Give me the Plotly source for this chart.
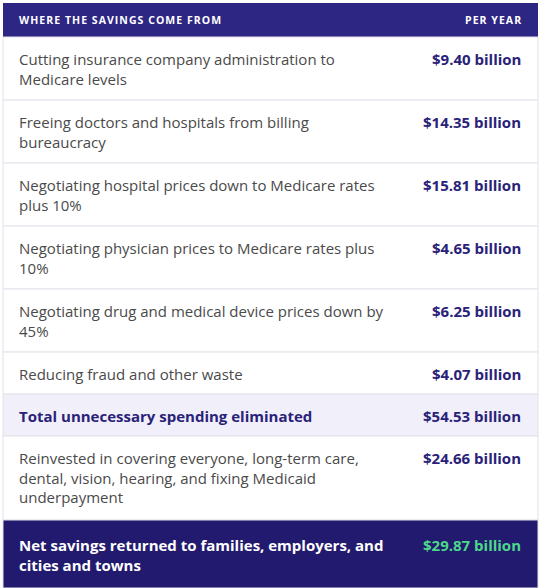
import plotly.graph_objects as go

# table content
header_left = "WHERE THE SAVINGS COME FROM"
header_right = "PER YEAR"
items = [
    "Cutting insurance company administration to<br>Medicare levels",
    "Freeing doctors and hospitals from billing<br>bureaucracy",
    "Negotiating hospital prices down to Medicare rates<br>plus 10%",
    "Negotiating physician prices to Medicare rates plus<br>10%",
    "Negotiating drug and medical device prices down by<br>45%",
    "Reducing fraud and other waste",
    "Total unnecessary spending eliminated",
    "Reinvested in covering everyone, long-term care,<br>dental, vision, hearing, and fixing Medicaid<br>underpayment",
    "Net savings returned to families, employers, and<br>cities and towns",
]
amounts = [9.40, 14.35, 15.81, 4.65, 6.25, 4.07, 54.53, 24.66, 29.87]
kinds = ["item"] * 6 + ["total", "item", "net"]

W, H = 541, 588
left, right = 3, 538
header_top, header_h = 3, 34

fig = go.Figure()
shapes, notes = [], []

shapes.append(dict(type="rect", x0=left, x1=right, y0=header_top, y1=header_top + header_h,
                   fillcolor="#2e2683", line_width=0, layer="below"))
spaced = lambda s: "\u200a".join(s)
notes.append(dict(x=17, y=header_top + header_h / 2, text="<b>" + spaced(header_left) + "</b>",
                  xanchor="left", font=dict(family="Open Sans", size=10.5, color="white")))
notes.append(dict(x=523, y=header_top + header_h / 2, text="<b>" + spaced(header_right) + "</b>",
                  xanchor="right", font=dict(family="Open Sans", size=10.5, color="white")))

y = header_top + header_h
for text, amt, kind in zip(items, amounts, kinds):
    lines = text.count("<br>") + 1
    h = 21 * lines + (26 if kind == "net" else 21)
    if kind == "net":
        fill, tcol, vcol, bold = "#221a6e", "white", "#4cd88a", True
    elif kind == "total":
        fill, tcol, vcol, bold = "#f1f0fa", "#2a2278", "#2a2278", True
    else:
        fill, tcol, vcol, bold = "white", "#4a4a4a", "#2a2278", False
    shapes.append(dict(type="rect", x0=left, x1=right, y0=y, y1=y + h, fillcolor=fill,
                       line=dict(color="#e2e2ea", width=1), layer="below"))
    t = "<b>" + text + "</b>" if bold else text
    ty = y + (13 if kind == "net" else 10)
    notes.append(dict(x=17, y=ty, text=t, xanchor="left", yanchor="top",
                      align="left", font=dict(family="Open Sans", size=15, color=tcol)))
    notes.append(dict(x=523, y=ty, text="<b>$%.2f billion</b>" % amt,
                      xanchor="right", yanchor="top",
                      font=dict(family="Open Sans", size=15, color=vcol)))
    y += h

for n in notes:
    n.update(xref="x", yref="y", showarrow=False)

fig.update_layout(
    width=W, height=H, margin=dict(l=0, r=0, t=0, b=0),
    paper_bgcolor="white", plot_bgcolor="white",
    xaxis=dict(range=[0, W], visible=False, fixedrange=True),
    yaxis=dict(range=[H, 0], visible=False, fixedrange=True),
    shapes=shapes, annotations=notes, showlegend=False,
)
fig.write_html("out.html", config={"displayModeBar": False})

# drop the browser's default page margin
html = open("out.html").read()
html = html.replace("<head>", "<head><style>body{margin:0;overflow:hidden}</style>", 1)
open("out.html", "w").write(html)
